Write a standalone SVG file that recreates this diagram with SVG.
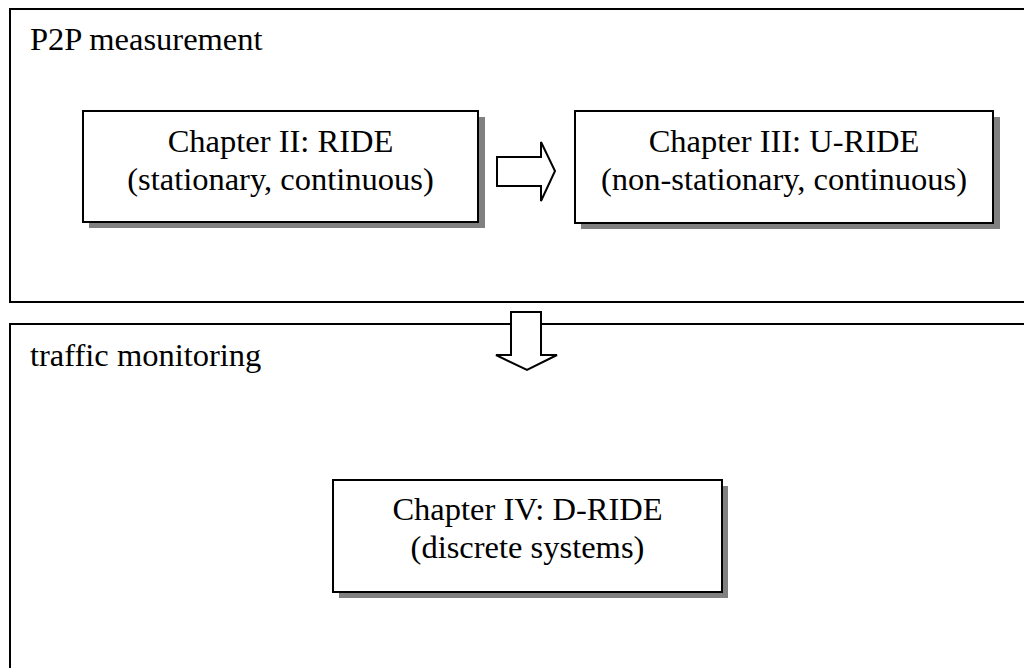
<svg xmlns="http://www.w3.org/2000/svg" width="1024" height="668" viewBox="0 0 1024 668">
<style>
  .frame { fill: none; stroke: #000; stroke-width: 2; }
  .box { fill: #fff; stroke: #000; stroke-width: 2; }
  .shadow { fill: #808080; }
  .arrow { fill: #fff; stroke: #000; stroke-width: 2; stroke-linejoin: miter; }
  text { font-family: "Liberation Serif", "Times New Roman", serif; font-size: 32.5px; fill: #000; }
  .c { text-anchor: middle; }
</style>
<rect width="1024" height="668" fill="#fff"/>
<g id="p2p">
  <rect class="frame" x="10" y="9" width="1030" height="293"/>
  <text x="30" y="50">P2P measurement</text>
</g>
<g id="traffic">
  <rect class="frame" x="10" y="324" width="1030" height="360"/>
  <text x="30" y="366">traffic monitoring</text>
</g>
<g id="ride">
  <rect class="shadow" x="89" y="117" width="396" height="111"/>
  <rect class="box" x="83" y="111" width="395" height="111"/>
  <text class="c" x="280.5" y="152">Chapter II: RIDE</text>
  <text class="c" x="280.5" y="190">(stationary, continuous)</text>
</g>
<g id="uride">
  <rect class="shadow" x="581" y="117" width="419" height="112"/>
  <rect class="box" x="575" y="111" width="418" height="112"/>
  <text class="c" x="784" y="152">Chapter III: U-RIDE</text>
  <text class="c" x="784" y="190">(non-stationary, continuous)</text>
</g>
<g id="dride">
  <rect class="shadow" x="339" y="486" width="389" height="112"/>
  <rect class="box" x="333" y="480" width="389" height="112"/>
  <text class="c" x="527.5" y="520">Chapter IV: D-RIDE</text>
  <text class="c" x="527.5" y="558">(discrete systems)</text>
</g>
<g id="connectors">
  <polygon class="arrow" points="497,157 541,157 541,142 555,171 541,201 541,186 497,186"/>
  <polygon class="arrow" points="511,312 541,312 541,355 557,355 527,370 496,355 511,355"/>
</g>
</svg>
